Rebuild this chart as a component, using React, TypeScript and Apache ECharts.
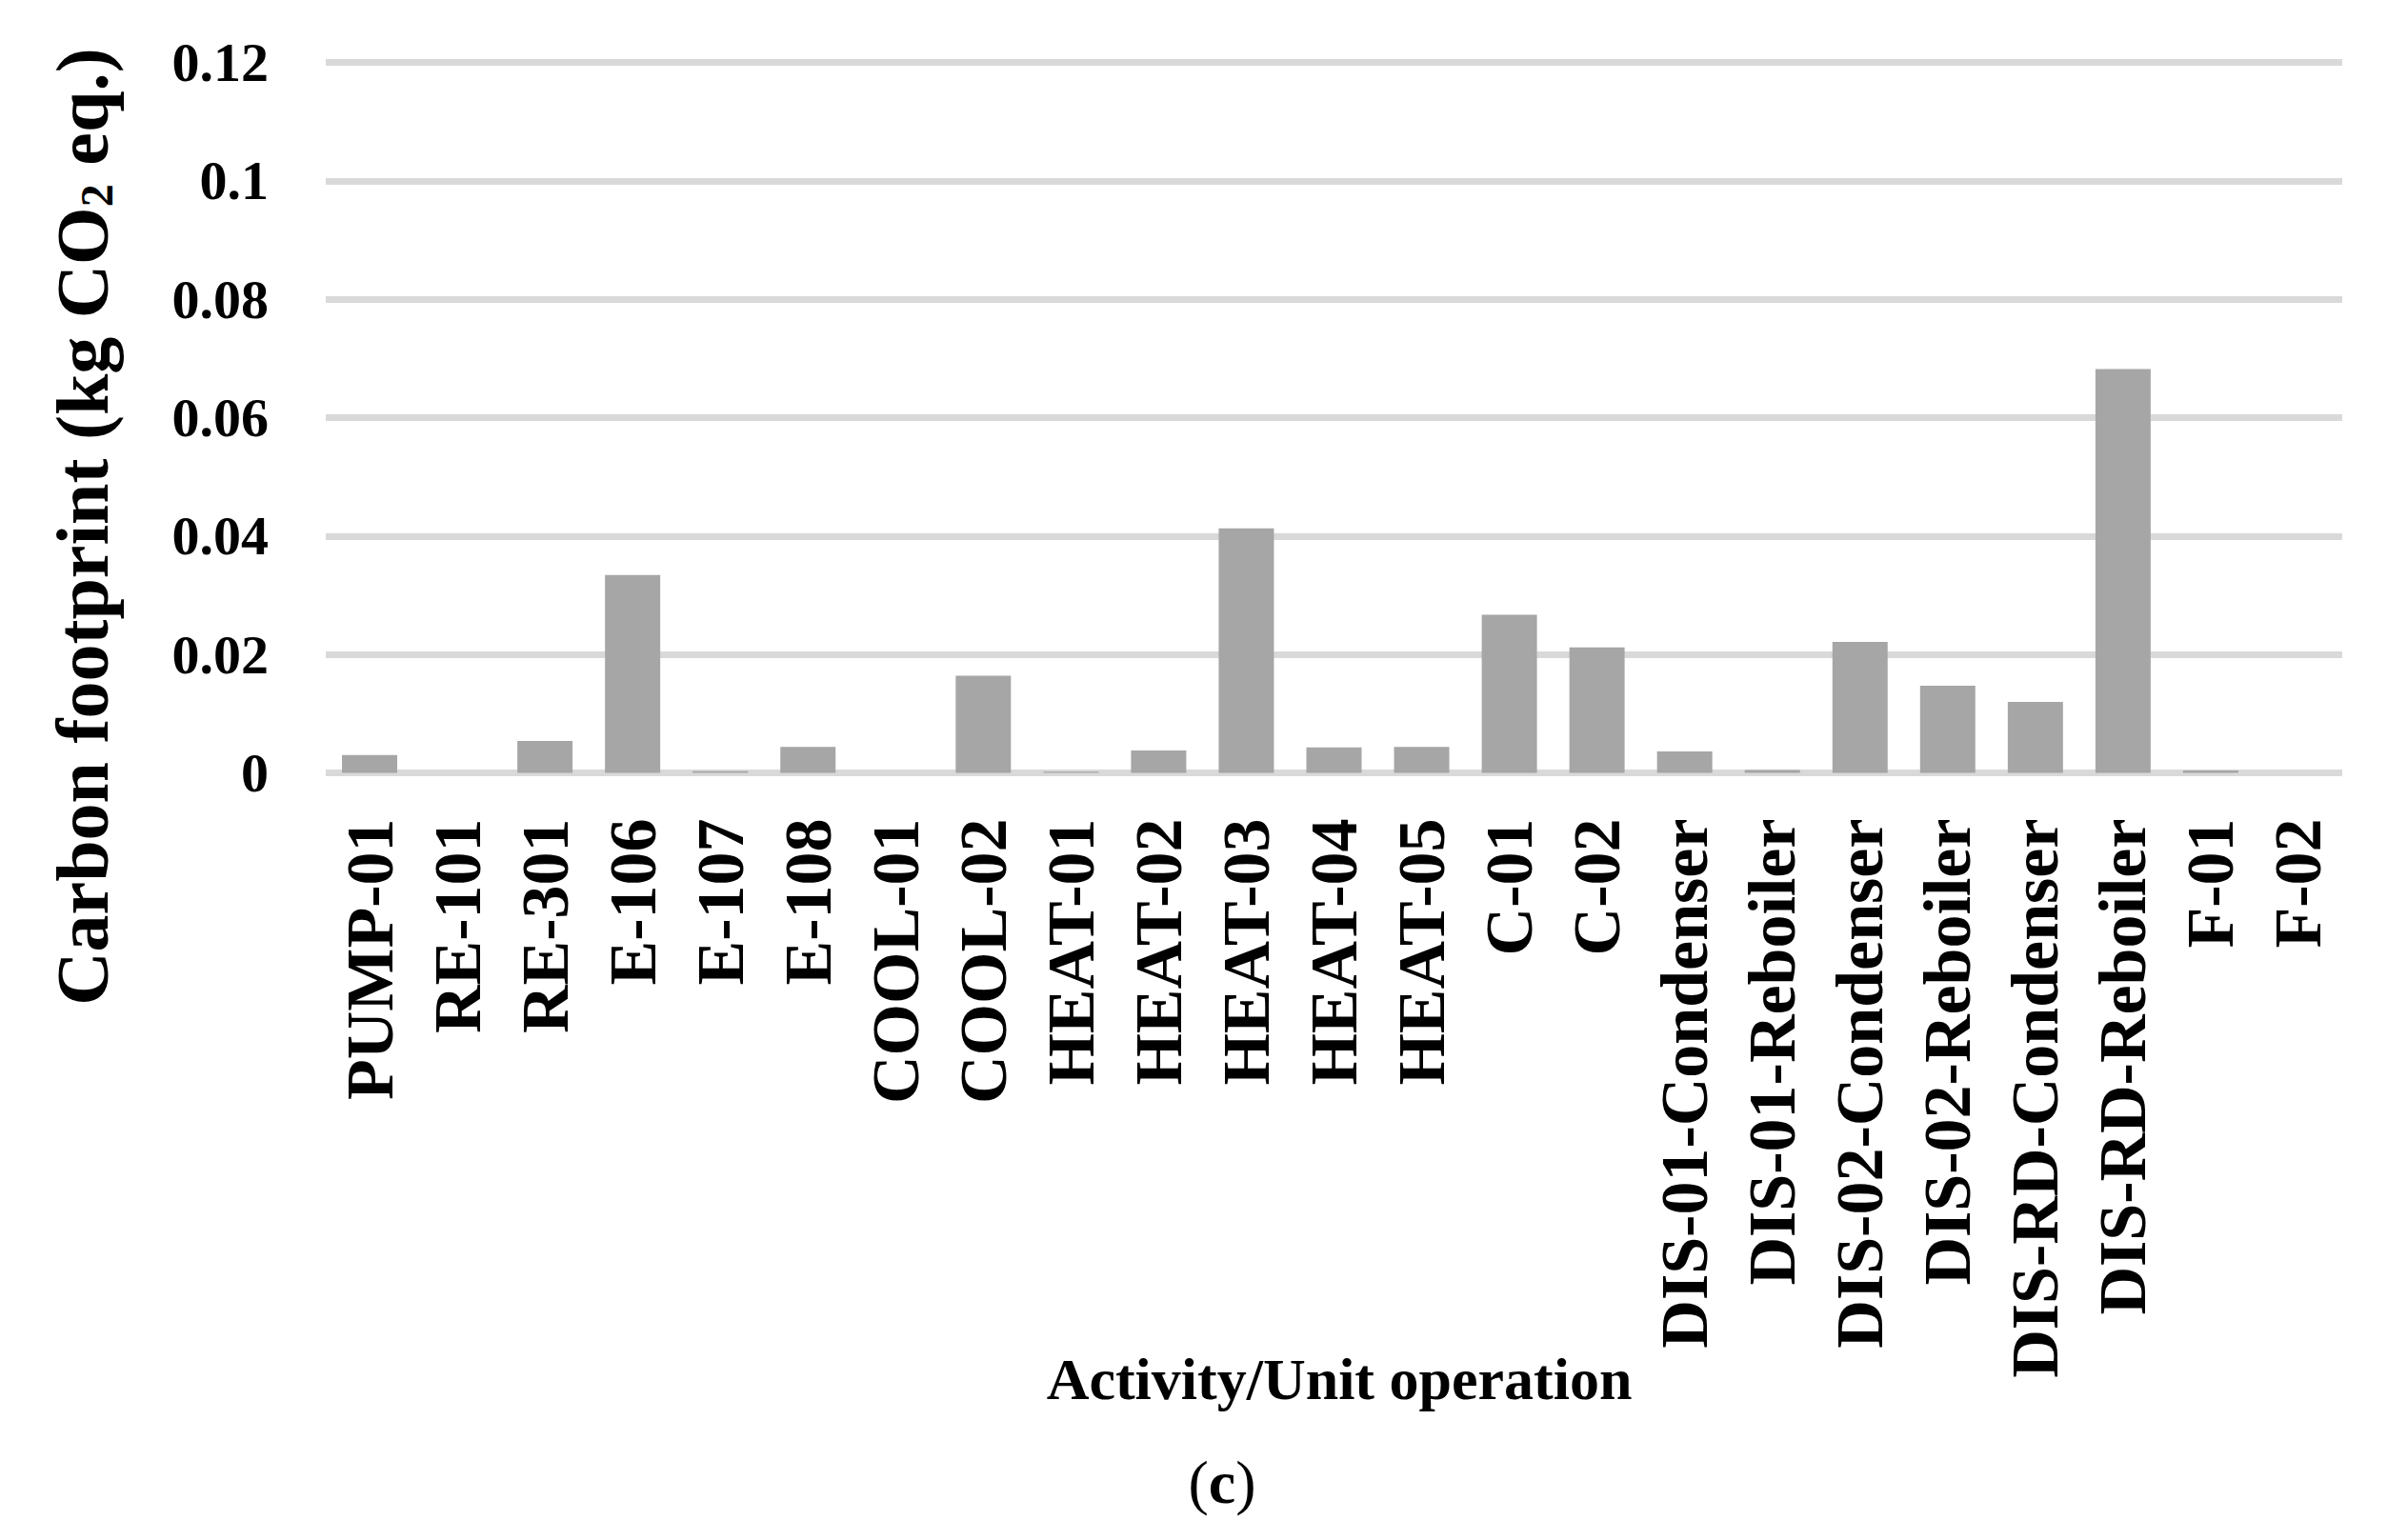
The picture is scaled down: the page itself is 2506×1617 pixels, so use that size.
import React, { useEffect, useRef } from "react";
import * as echarts from "echarts";

const categories = [
  "PUMP-01", "RE-101", "RE-301", "E-106", "E-107", "E-108", "COOL-01", "COOL-02",
  "HEAT-01", "HEAT-02", "HEAT-03", "HEAT-04", "HEAT-05", "C-01", "C-02",
  "DIS-01-Condenser", "DIS-01-Reboiler", "DIS-02-Condenser", "DIS-02-Reboiler",
  "DIS-RD-Condenser", "DIS-RD-Reboiler", "F-01", "F-02",
];
const carbonValues = [
  0.003, 0, 0.0054, 0.0334, 0.0003, 0.0044, 0, 0.0164,
  0.0002, 0.0038, 0.0413, 0.0043, 0.0044, 0.0267, 0.0212,
  0.0036, 0.0005, 0.0221, 0.0147,
  0.012, 0.0682, 0.0004, 0,
];
const yMin = 0;
const yMax = 0.12;
const yStep = 0.02;
const yTitleMain = "Carbon footprint (kg CO";
const yTitleSub = "2";
const yTitleEnd = " eq.)";
const xTitle = "Activity/Unit operation";
const panelLabel = "c";

const FONT = "Liberation Serif";

export default function App() {
  const ref = useRef<HTMLDivElement>(null);
  useEffect(() => {
    if (!ref.current) return;
    const chart = echarts.init(ref.current, null, { renderer: "svg" });
    chart.setOption({
      animation: false,
      backgroundColor: "#ffffff",
      grid: {
        left: 342,
        right: 47,
        top: 65.5,
        bottom: 805.5,
        containLabel: false,
        outerBoundsMode: "none",
      },
      xAxis: {
        type: "category",
        data: categories,
        axisLine: { show: false },
        axisTick: { show: false },
        axisLabel: {
          interval: 0,
          rotate: 90,
          margin: 48,
          color: "#000",
          fontFamily: FONT,
          fontWeight: "bold",
          fontSize: 70,
        },
      },
      yAxis: {
        type: "value",
        min: yMin,
        max: yMax,
        interval: yStep,
        axisLine: { show: false },
        axisTick: { show: false },
        splitLine: { lineStyle: { color: "#d9d9d9", width: 7 } },
        axisLabel: {
          margin: 60,
          color: "#000",
          fontFamily: FONT,
          fontWeight: "bold",
          fontSize: 58,
        },
      },
      series: [
        {
          type: "bar",
          data: carbonValues,
          barCategoryGap: "37%",
          itemStyle: { color: "#a6a6a6" },
        },
      ],
      graphic: [
        {
          type: "text",
          x: 86,
          y: 553,
          rotation: Math.PI / 2,
          style: {
            text: "{m|" + yTitleMain + "}{s|" + yTitleSub + "}{m|" + yTitleEnd + "}",
            align: "center",
            verticalAlign: "middle",
            fill: "#000",
            rich: {
              m: { fontFamily: FONT, fontWeight: "bold", fontSize: 78, fill: "#000", color: "#000" },
              s: {
                fontFamily: FONT,
                fontWeight: "bold",
                fontSize: 48,
                lineHeight: 40,
                verticalAlign: "bottom",
                fill: "#000",
                color: "#000",
              },
            },
          },
        },
        {
          type: "text",
          x: 1406,
          y: 1448,
          style: {
            text: xTitle,
            align: "center",
            verticalAlign: "middle",
            fill: "#000",
            fontFamily: FONT,
            fontWeight: "bold",
            fontSize: 62,
          },
        },
        {
          type: "text",
          x: 1283,
          y: 1556,
          style: {
            text: "{p|(}{c|" + panelLabel + "}{p|)}",
            align: "center",
            verticalAlign: "middle",
            fill: "#000",
            rich: {
              p: { fontFamily: FONT, fontWeight: "normal", fontSize: 64, fill: "#000", color: "#000" },
              c: { fontFamily: FONT, fontWeight: "bold", fontSize: 64, fill: "#000", color: "#000" },
            },
          },
        },
      ],
    });
    return () => chart.dispose();
  }, []);
  return (
    <div
      ref={ref}
      style={{ position: "absolute", left: 0, top: 0, width: 2506, height: 1617, background: "#fff" }}
    />
  );
}
